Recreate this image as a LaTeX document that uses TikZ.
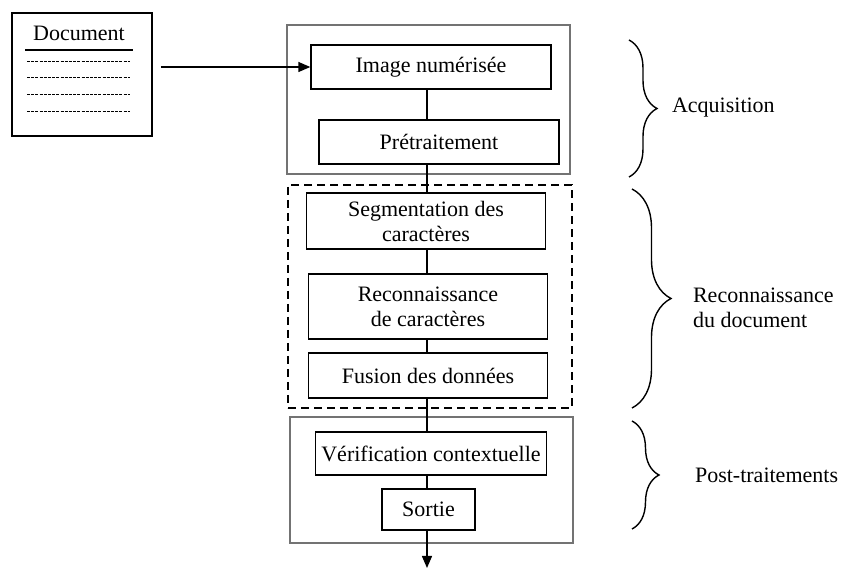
\documentclass[tikz,border=0pt]{standalone}
\usepackage{fontspec}
\setmainfont{Liberation Serif}
\usetikzlibrary{arrows.meta,decorations.pathreplacing}

\begin{document}
\begin{tikzpicture}[x=0.5pt, y=-0.5pt,
        every node/.style={font=\fontsize{11}{12.5}\selectfont},
        stage/.style={rectangle, draw, line width=0.7pt, align=center, inner sep=0pt},
        group/.style={rectangle, draw=black!55, line width=0.8pt, inner sep=0pt},
        phase/.style={decorate, decoration={brace, amplitude=#1}, line width=0.7pt},
        tip/.style={-{Triangle[length=6pt, width=5pt]}, line width=0.7pt}]
        \useasboundingbox (0,0) rectangle (843,572);

        % document
        \node[draw, line width=0.9pt, minimum width=70pt, minimum height=61.5pt] at (82,74.5)  (doc)  {};
        \node at (79,33)  (doc_title)  {Document};
        \draw[line width=1pt] (25,50) -- (133,50);
        \foreach \y in {62,78,95,112}
            \draw[line width=0.5pt, dash pattern=on 1.5pt off 0.6pt] (27,\y) -- (130,\y);

        % groups
        \node[group, minimum width=141.5pt, minimum height=74.5pt] at (428.5,99.5)  (acq_g)  {};
        \node[group, draw=black, dash pattern=on 4pt off 2.5pt, minimum width=142pt, minimum height=111.5pt] at (430,296.5)  (rec_g)  {};
        \node[group, minimum width=141.5pt, minimum height=63pt] at (431.5,480)  (post_g)  {};

        % stages
        \node[stage, minimum width=120pt, minimum height=22pt] at (431,67)  (img)  {Image numérisée};
        \node[stage, minimum width=120pt, minimum height=22pt] at (439,142)  (pre)  {Prétraitement};
        \node[stage, minimum width=119.5pt, minimum height=28pt] at (426,221)  (seg)  {Segmentation des\\caractères};
        \node[stage, minimum width=119.5pt, minimum height=32.5pt] at (428,306.5)  (rec)  {Reconnaissance\\de caractères};
        \node[stage, minimum width=119.5pt, minimum height=22.5pt] at (428,375.5)  (fus)  {Fusion des données};
        \node[stage, minimum width=115.5pt, minimum height=21.5pt] at (431,453.5)  (ver)  {Vérification contextuelle};
        \node[stage, minimum width=46.5pt, minimum height=20.5pt] at (428.5,509.5)  (sor)  {Sortie};

        \coordinate (spine) at (427,0);
        \coordinate (out) at (427,568);

        \draw[tip, shorten <=4pt] (doc.east |- img.west) -- (img.west);
        \draw[line width=0.7pt] (img.south -| spine) -- (pre.north -| spine);
        \draw[line width=0.7pt] (pre.south -| spine) -- (seg.north -| spine);
        \draw[line width=0.7pt] (seg.south -| spine) -- (rec.north -| spine);
        \draw[line width=0.7pt] (rec.south -| spine) -- (fus.north -| spine);
        \draw[line width=0.7pt] (fus.south -| spine) -- (ver.north -| spine);
        \draw[line width=0.7pt] (ver.south -| spine) -- (sor.north -| spine);
        \draw[tip] (sor.south -| spine) -- (out);

        % phases
        \draw[phase=14pt] (629,40) -- (629,177);
        \node[anchor=west] at (665,108)  (lbl_acq)  {Acquisition};
        \draw[phase=19.5pt] (632,189) -- (632,408);
        \node[anchor=west, align=left] at (686,308)  (lbl_rec)  {Reconnaissance\\du document};
        \draw[phase=13.5pt] (632,421) -- (632,529);
        \node[anchor=west] at (688,475)  (lbl_post)  {Post-traitements};
    \end{tikzpicture}
\end{document}
